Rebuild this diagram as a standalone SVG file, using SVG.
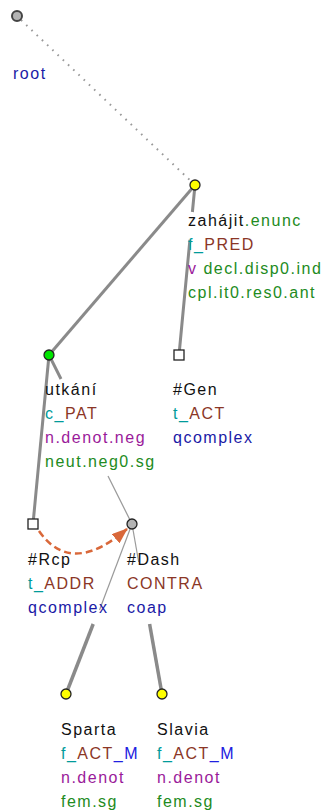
<svg xmlns="http://www.w3.org/2000/svg" width="323" height="811" viewBox="0 0 323 811">
<style>
.lbl{font-family:"Liberation Sans",Arial,sans-serif;font-size:16px;letter-spacing:1.5px}
.k{fill:#111}.g{fill:#228b22}.t{fill:#009b9b}.b{fill:#8b3626}.m{fill:#2020e0}.p{fill:#9a1a9a}.d{fill:#1a1aa6}
.edge{stroke:#8a8a8a;stroke-width:3;fill:none}
.thick{stroke:#8a8a8a;stroke-width:3.5;fill:none}
.thin{stroke:#9a9a9a;stroke-width:1.2;fill:none}
.dot{stroke:#999;stroke-width:2;stroke-dasharray:1.6 5.6;fill:none}
.coref{stroke:#d9683a;stroke-width:2.5;stroke-dasharray:7 4;fill:none}
.nc{stroke:#222;stroke-width:1.3}
.sq{fill:#fff;stroke:#222;stroke-width:1.3}
</style>
<defs>
<marker id="ah" viewBox="0 0 16 12" refX="15" refY="6" markerWidth="16" markerHeight="12" markerUnits="userSpaceOnUse" orient="auto">
<path d="M0,0 L16,6 L0,12 z" fill="#d9683a"/>
</marker>
</defs>
<rect width="323" height="811" fill="#fff"/>
<g id="connectors">
<path id="e-root-zahajit" class="dot" d="M21,20 L195,185"/>
<path id="e-zahajit-utkani" class="edge" d="M195,185 L49,355"/>
<path id="e-zahajit-gen" class="edge" d="M195,185 L192.4,212 M189.9,240 L179,355"/>
<path id="e-utkani-rcp" class="edge" d="M49,355 L33,524"/>
<path id="e-utkani-dash" class="edge" d="M49,355 L61,379"/>
<path id="e-utkani-dash-b" class="thin" d="M108,476 L132,524"/>
<path id="e-dash-sparta" class="thin" d="M132,524 L99.5,610"/>
<path id="e-dash-sparta-b" class="thick" d="M93.2,624 L66,694"/>
<path id="e-dash-slavia" class="thin" d="M132,524 L138.7,562"/>
<path id="e-dash-slavia-b" class="thick" d="M149.6,624 L162,694"/>
<path id="coref-rcp-dash" class="coref" d="M39,531 Q71,577 127,529" marker-end="url(#ah)"/>
</g>
<g id="n-root">
<circle cx="17" cy="16" r="5" fill="#b4b4b4" stroke="#444" stroke-width="2"/>
<text class="lbl d" x="13" y="79">root</text>
</g>
<g id="n-zahajit">
<circle cx="195" cy="185" r="5" fill="#ffff00" class="nc"/>
<text class="lbl" x="188" y="226"><tspan class="k">zahájit</tspan><tspan class="g">.enunc</tspan></text>
<text class="lbl" x="188" y="250"><tspan class="t">f_</tspan><tspan class="b">PRED</tspan></text>
<text class="lbl" x="188" y="274"><tspan class="p">v</tspan><tspan class="g"> decl.disp0.ind</tspan></text>
<text class="lbl g" x="188" y="298">cpl.it0.res0.ant</text>
</g>
<g id="n-utkani">
<circle cx="49" cy="355" r="5" fill="#00e600" class="nc"/>
<text class="lbl k" x="45" y="395">utkání</text>
<text class="lbl" x="45" y="419"><tspan class="t">c_</tspan><tspan class="b">PAT</tspan></text>
<text class="lbl p" x="45" y="443">n.denot.neg</text>
<text class="lbl g" x="45" y="467">neut.neg0.sg</text>
</g>
<g id="n-gen">
<rect x="174" y="350" width="10" height="10" class="sq"/>
<text class="lbl k" x="173" y="395">#Gen</text>
<text class="lbl" x="173" y="419"><tspan class="t">t_</tspan><tspan class="b">ACT</tspan></text>
<text class="lbl d" x="173" y="443">qcomplex</text>
</g>
<g id="n-rcp">
<rect x="28" y="519" width="10" height="10" class="sq"/>
<text class="lbl k" x="28" y="565">#Rcp</text>
<text class="lbl" x="28" y="589"><tspan class="t">t_</tspan><tspan class="b">ADDR</tspan></text>
<text class="lbl d" x="28" y="613">qcomplex</text>
</g>
<g id="n-dash">
<circle cx="132" cy="524" r="5" fill="#b4b4b4" class="nc"/>
<text class="lbl k" x="127" y="565">#Dash</text>
<text class="lbl b" x="127" y="589">CONTRA</text>
<text class="lbl d" x="127" y="613">coap</text>
</g>
<g id="n-sparta">
<circle cx="66" cy="694" r="5" fill="#ffff00" class="nc"/>
<text class="lbl k" x="61" y="735">Sparta</text>
<text class="lbl" x="61" y="759"><tspan class="t">f_</tspan><tspan class="b">ACT</tspan><tspan class="m">_M</tspan></text>
<text class="lbl p" x="61" y="783">n.denot</text>
<text class="lbl g" x="61" y="807">fem.sg</text>
</g>
<g id="n-slavia">
<circle cx="162" cy="694" r="5" fill="#ffff00" class="nc"/>
<text class="lbl k" x="157" y="735">Slavia</text>
<text class="lbl" x="157" y="759"><tspan class="t">f_</tspan><tspan class="b">ACT</tspan><tspan class="m">_M</tspan></text>
<text class="lbl p" x="157" y="783">n.denot</text>
<text class="lbl g" x="157" y="807">fem.sg</text>
</g>
</svg>
